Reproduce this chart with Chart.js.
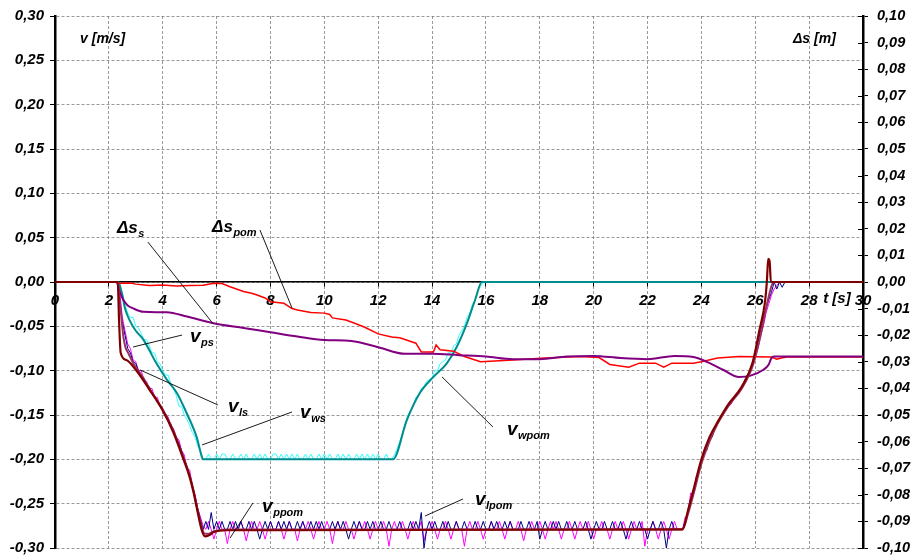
<!DOCTYPE html>
<html>
<head>
<meta charset="utf-8">
<script src="https://cdn.jsdelivr.net/npm/chart.js@4/dist/chart.umd.min.js"></script>
<style>
  html, body { margin: 0; padding: 0; background: #fff; }
  canvas { display: block; }
</style>
</head>
<body>
<canvas id="c" width="915" height="559"></canvas>
<script>
// ---- measured signals -------------------------------------------------
// Sample clock of the logged velocity signals (s)
const T_START = 2.3;
const T_STEP = 0.1;

// v_wpom [m/s], sampled from 2.3 s to 16.0 s
const vWpom = [
  0, -.005, -.012, -.025, -.035, -.04, -.04, -.05, -.052, -.058,
  -.065, -.065, -.072, -.08, -.08, -.09, -.092, -.1, -.105, -.105,
  -.115, -.12, -.128, -.14, -.14, -.15, -.155, -.162, -.17, -.175,
  -.185, -.19, -.2,
  -.2, -.194, -.2, -.2, -.194, -.2, -.194, -.194, -.2, -.2,
  -.194, -.2, -.2, -.194, -.2, -.194, -.2, -.2, -.194, -.2,
  -.194, -.2, -.194, -.2, -.2, -.194, -.194, -.2, -.194, -.2,
  -.194, -.2, -.194, -.2, -.194, -.2, -.2, -.194, -.2, -.194,
  -.2, -.2, -.194, -.2, -.194, -.2, -.194, -.2, -.2, -.194,
  -.2, -.194, -.2, -.194, -.2, -.2, -.194, -.2, -.194, -.2,
  -.194, -.2, -.194, -.2, -.194, -.2, -.2, -.194, -.2, -.2,
  -.195, -.188, -.18, -.17, -.16, -.15, -.145, -.14, -.13, -.128,
  -.12, -.118, -.112, -.11, -.108, -.1, -.1, -.092, -.09, -.088,
  -.08, -.08, -.072, -.07, -.06, -.055, -.05, -.04, -.035, -.025,
  -.02, -.01, -.005, 0, 0
];

// v_lpom [m/s], sampled from 2.3 s to 27.2 s
const vLpom = [
  0, -.02, -.045, -.06, -.075, -.08, -.09, -.092, -.1, -.105,
  -.108, -.115, -.118, -.125, -.128, -.135, -.138, -.145, -.148, -.155,
  -.16, -.168, -.175, -.182, -.19, -.2, -.208, -.218, -.23, -.242,
  -.256, -.268, -.279,
  -.27, -.279, -.26, -.279, -.27, -.279, -.27, -.279, -.279, -.27,
  -.279, -.27, -.279, -.27, -.279, -.279, -.27, -.279, -.27, -.279,
  -.29, -.279, -.27, -.279, -.27, -.279, -.279, -.27, -.279, -.27,
  -.279, -.27, -.279, -.279, -.27, -.279, -.27, -.279, -.279, -.27,
  -.279, -.27, -.279, -.27, -.279, -.279, -.279, -.27, -.279, -.27,
  -.279, -.27, -.279, -.29, -.279, -.27, -.279, -.27, -.279, -.279,
  -.27, -.279, -.27, -.279, -.279, -.27, -.279, -.279, -.27, -.279,
  -.279, -.279, -.27, -.279, -.279, -.279, -.27, -.279, -.27, -.279,
  -.26, -.30, -.279, -.27, -.279, -.27, -.279, -.279, -.27, -.279,
  -.27, -.279, -.279, -.27, -.279, -.279, -.27, -.279, -.279, -.279,
  -.27, -.279, -.279, -.27, -.279, -.279, -.27, -.279, -.27, -.279,
  -.279, -.27, -.279, -.27, -.279, -.279, -.279, -.27, -.279, -.279,
  -.27, -.279, -.279, -.27, -.29, -.279, -.27, -.279, -.279, -.27,
  -.279, -.27, -.279, -.279, -.27, -.279, -.279, -.27, -.279, -.279,
  -.279, -.27, -.279, -.29, -.279, -.27, -.279, -.279, -.27, -.279,
  -.279, -.27, -.279, -.279, -.27, -.279, -.29, -.279, -.27, -.279,
  -.279, -.27, -.279, -.279, -.29, -.279, -.27, -.279, -.279, -.27,
  -.279, -.30, -.279, -.27, -.279, -.279, -.279,
  -.279, -.27, -.258, -.245, -.235, -.225, -.21, -.205, -.19, -.19,
  -.178, -.175, -.165, -.16, -.152, -.15, -.145, -.14, -.135, -.13,
  -.128, -.122, -.12, -.112, -.105, -.1, -.09, -.08, -.068, -.055,
  -.04, -.03, -.02, -.012, 0, -.008, 0, -.006, 0, 0
];

// v_ppom [m/s], sampled from 2.3 s to 27.2 s
const vPpom = [
  0, -.01, -.04, -.055, -.07, -.075, -.088, -.09, -.1, -.1,
  -.11, -.112, -.12, -.12, -.13, -.13, -.14, -.142, -.15, -.152,
  -.162, -.165, -.175, -.178, -.19, -.195, -.21, -.212, -.23, -.24,
  -.255, -.265, -.275,
  -.279, -.27, -.279, -.29, -.279, -.27, -.279, -.279, -.295, -.279,
  -.27, -.279, -.279, -.27, -.279, -.292, -.279, -.27, -.279, -.279,
  -.27, -.279, -.29, -.279, -.27, -.279, -.279, -.27, -.279, -.29,
  -.279, -.27, -.279, -.279, -.292, -.279, -.27, -.279, -.27, -.279,
  -.29, -.279, -.27, -.279, -.279, -.27, -.279, -.295, -.279, -.27,
  -.279, -.279, -.27, -.279, -.279, -.29, -.279, -.27, -.279, -.27,
  -.279, -.29, -.279, -.27, -.279, -.279, -.27, -.279, -.298, -.279,
  -.27, -.279, -.279, -.27, -.279, -.29, -.279, -.27, -.279, -.279,
  -.27, -.292, -.279, -.279, -.27, -.279, -.29, -.279, -.279, -.27,
  -.279, -.29, -.279, -.27, -.279, -.279, -.298, -.279, -.27, -.279,
  -.279, -.27, -.279, -.29, -.279, -.279, -.27, -.279, -.279, -.27,
  -.279, -.29, -.279, -.27, -.279, -.279, -.27, -.279, -.292, -.279,
  -.279, -.27, -.279, -.279, -.27, -.279, -.29, -.279, -.27, -.279,
  -.27, -.279, -.29, -.279, -.279, -.27, -.279, -.29, -.279, -.27,
  -.279, -.279, -.27, -.279, -.29, -.279, -.279, -.27, -.279, -.279,
  -.29, -.279, -.27, -.279, -.279, -.27, -.279, -.29, -.279, -.27,
  -.279, -.279, -.27, -.298, -.279, -.279, -.27, -.279, -.29, -.279,
  -.27, -.279, -.29, -.279, -.27, -.279, -.279,
  -.279, -.265, -.262, -.238, -.24, -.22, -.215, -.2, -.195, -.185,
  -.18, -.17, -.165, -.158, -.155, -.148, -.145, -.14, -.138, -.132,
  -.128, -.125, -.12, -.115, -.11, -.1, -.095, -.085, -.075, -.06,
  -.05, -.035, -.025, -.015, -.008, -.004, 0, 0, 0, 0
];

// Filtered velocities [t (s), v (m/s)]
const vWs = [
  [0, 0], [2.35, 0], [2.5, -0.015], [2.6, -0.030], [2.8, -0.045], [3.0, -0.055],
  [3.28, -0.065], [3.77, -0.092], [4.15, -0.110], [4.52, -0.125], [4.89, -0.148],
  [5.26, -0.175], [5.45, -0.197], [5.5, -0.200], [12.55, -0.200], [13.06, -0.156],
  [13.55, -0.125], [14.05, -0.107], [14.54, -0.092], [14.92, -0.073], [15.29, -0.047],
  [15.6, -0.020], [15.85, 0], [30, 0]
];
const vPs = [
  [0, 0], [2.33, 0], [2.4, -0.020], [2.44, -0.032], [2.54, -0.062], [2.62, -0.074],
  [2.72, -0.080], [2.91, -0.092], [3.16, -0.103], [3.5, -0.120], [4.0, -0.144],
  [4.4, -0.168], [4.77, -0.198], [5.0, -0.218], [5.15, -0.236], [5.3, -0.258],
  [5.45, -0.277], [5.57, -0.284], [5.7, -0.284], [5.9, -0.281], [6.4, -0.279],
  [23.3, -0.279], [23.5, -0.262], [23.7, -0.240], [24.0, -0.205], [24.3, -0.180],
  [24.6, -0.160], [25.0, -0.140], [25.5, -0.120], [25.9, -0.095], [26.2, -0.060],
  [26.4, -0.030], [26.6, -0.005], [26.7, 0], [30, 0]
];
const vLs = [
  [0, 0], [2.33, 0], [2.38, -0.045], [2.44, -0.080], [2.65, -0.088], [3.0, -0.099],
  [3.5, -0.121], [4.0, -0.145], [4.4, -0.170], [4.77, -0.200], [5.0, -0.220],
  [5.15, -0.238], [5.3, -0.260], [5.45, -0.280], [5.57, -0.287], [5.7, -0.286],
  [5.9, -0.282], [6.4, -0.280], [23.3, -0.279], [23.5, -0.258], [23.7, -0.235],
  [24.0, -0.200], [24.3, -0.175], [24.6, -0.158], [25.0, -0.138], [25.5, -0.118],
  [25.9, -0.091], [26.15, -0.055], [26.35, -0.025], [26.43, 0], [26.48, 0.026],
  [26.53, 0.024], [26.58, 0], [30, 0]
];

// Displacement differences [t (s), Δs (m)]
const dsPom = [
  [0, 0], [2.3, 0], [2.4, -0.0005], [2.8, -0.0004], [3.0, -0.0008], [3.5, -0.0013],
  [4.0, -0.0011], [4.5, -0.0015], [5.0, -0.0013], [5.5, -0.0012], [5.9, -0.0005],
  [6.2, -0.0006], [6.5, -0.0018], [7.0, -0.0036], [7.3, -0.0042], [7.5, -0.0049],
  [7.8, -0.0060], [8.0, -0.0074], [8.5, -0.0080], [8.8, -0.0100], [9.0, -0.0105],
  [9.5, -0.0115], [10.0, -0.0117], [10.2, -0.0122], [10.3, -0.0135], [10.8, -0.0143],
  [11.2, -0.0158], [11.5, -0.0170], [12.0, -0.0195], [12.5, -0.0207], [12.8, -0.0210],
  [13.4, -0.0230], [13.6, -0.0263], [14.05, -0.0263], [14.15, -0.0237], [14.3, -0.0255],
  [14.8, -0.0260], [15.2, -0.0280], [15.8, -0.0300], [16.5, -0.0296], [17.0, -0.0293],
  [18.2, -0.0286], [19.5, -0.0280], [20.2, -0.0284], [20.6, -0.0310], [21.3, -0.0320],
  [21.7, -0.0305], [22.3, -0.0305], [22.6, -0.0320], [22.9, -0.0305], [23.7, -0.0305],
  [24.0, -0.0300], [24.6, -0.0286], [25.4, -0.0280], [26.6, -0.0282], [26.8, -0.0290],
  [27.0, -0.0285], [27.2, -0.0282], [30, -0.0282]
];
const dsS = [
  [0, 0], [2.3, 0], [2.4, -0.0035], [2.54, -0.0068], [2.7, -0.0088], [2.9, -0.0099],
  [3.28, -0.0112], [4.15, -0.0114], [4.9, -0.0130], [5.88, -0.0155], [7.0, -0.0173],
  [8.0, -0.0189], [9.0, -0.0205], [10.0, -0.0218], [11.0, -0.0222], [12.0, -0.0245],
  [13.0, -0.0270], [14.0, -0.0270], [15.0, -0.0275], [16.0, -0.0280], [17.0, -0.0290],
  [18.0, -0.0290], [19.0, -0.0280], [20.0, -0.0278], [21.0, -0.0286], [22.0, -0.0290],
  [23.0, -0.0278], [23.7, -0.0282], [24.2, -0.0300], [24.8, -0.0330], [25.4, -0.0357],
  [25.8, -0.0353], [26.3, -0.0330], [26.5, -0.0310], [26.6, -0.0286], [26.7, -0.0280],
  [30, -0.0280]
];

// ---- helpers ----------------------------------------------------------
const FONT = '"Liberation Sans", Arial, Helvetica, sans-serif';
const sampled = values => {
  const pts = [{x: 0, y: 0}];
  values.forEach((v, i) => pts.push({x: +(T_START + i * T_STEP).toFixed(2), y: v}));
  pts.push({x: 30, y: 0});
  return pts;
};
const pairs = arr => arr.map(([x, y]) => ({x, y}));
const comma = v => (Math.abs(v) < 1e-9 ? 0 : v).toFixed(2).replace('.', ',');

// Labels with leader lines, placed in (t, v) coordinates of the left axis
const notes = [
  {main: 'Δs', sub: 's',   size: 17, at: [2.30, 0.0553],  from: [3.45, 0.045],   to: [5.87, -0.047]},
  {main: 'Δs', sub: 'pom', size: 17, at: [5.83, 0.0564],  from: [7.61, 0.0586],  to: [8.80, -0.0293]},
  {main: 'v',  sub: 'ps',  size: 19, at: [5.01, -0.0677], from: [4.72, -0.0598], to: [2.90, -0.0733]},
  {main: 'v',  sub: 'ls',  size: 19, at: [6.42, -0.1466], from: [6.05, -0.1387], to: [3.16, -0.0992]},
  {main: 'v',  sub: 'ws',  size: 19, at: [9.10, -0.1534], from: [8.80, -0.1466], to: [5.46, -0.1838]},
  {main: 'v',  sub: 'wpom',size: 19, at: [16.78, -0.1726],from: [16.26, -0.1635],to: [14.37, -0.1071]},
  {main: 'v',  sub: 'ppom',size: 19, at: [7.69, -0.2594], from: [7.35, -0.2492], to: [6.50, -0.2887]},
  {main: 'v',  sub: 'lpom',size: 19, at: [15.59, -0.2515],from: [15.15, -0.2447],to: [13.74, -0.2639]}
];
const titles = [
  {text: 'v [m/s]', size: 14, at: [0.93, 0.2695]},
  {text: 'Δs [m]',  size: 14, at: [27.40, 0.2695]},
  {text: 't [s]',   size: 15, at: [28.52, -0.0237]}
];

const notesPlugin = {
  id: 'notes',
  beforeDatasetsDraw(chart) {
    // inner half of the right-axis tick marks
    const {ctx} = chart;
    const r = chart.scales.y2;
    ctx.save();
    ctx.strokeStyle = '#000';
    ctx.lineWidth = 1;
    r.ticks.forEach(tk => {
      const y = Math.round(r.getPixelForValue(tk.value)) + 0.5;
      ctx.beginPath();
      ctx.moveTo(r.left - 5, y);
      ctx.lineTo(r.left, y);
      ctx.stroke();
    });
    ctx.restore();
  },
  afterDatasetsDraw(chart) {
    const {ctx} = chart;
    const xs = chart.scales.x, ys = chart.scales.y;
    const P = ([t, v]) => [xs.getPixelForValue(t), ys.getPixelForValue(v)];
    ctx.save();
    ctx.fillStyle = '#000';
    ctx.strokeStyle = '#000';
    ctx.lineWidth = 0.9;
    ctx.textBaseline = 'alphabetic';
    ctx.textAlign = 'left';
    notes.forEach(n => {
      const [a, b] = P(n.from), [c, d] = P(n.to);
      ctx.beginPath();
      ctx.moveTo(a, b);
      ctx.lineTo(c, d);
      ctx.stroke();
      const [px, py] = P(n.at);
      ctx.font = `italic bold ${n.size}px ${FONT}`;
      ctx.fillText(n.main, px, py);
      const w = ctx.measureText(n.main).width;
      ctx.font = `italic bold 11px ${FONT}`;
      ctx.fillText(n.sub, px + w + 0.5, py + 4);
    });
    titles.forEach(t => {
      const [px, py] = P(t.at);
      ctx.font = `italic bold ${t.size}px ${FONT}`;
      ctx.fillText(t.text, px, py);
    });
    ctx.restore();
  }
};

// ---- chart ------------------------------------------------------------
Chart.defaults.font.family = FONT;
Chart.defaults.color = '#000';

const tickFont = {size: 15, weight: 'bold', style: 'italic'};
const gridGray = 'rgba(120,120,120,0.75)';

// fixed axis widths; vertical room for end labels comes from layout padding
const fitVertical = width => s => {
  s.width = width;
  s.paddingTop = 0;
  s.paddingBottom = 0;
};

const line = (data, color, width, axis, smooth) => ({
  data, borderColor: color, backgroundColor: color, borderWidth: width,
  yAxisID: axis, pointRadius: 0, fill: false,
  tension: 0, cubicInterpolationMode: smooth ? 'monotone' : 'default'
});

new Chart(document.getElementById('c'), {
  type: 'line',
  data: {
    datasets: [
      line(pairs(vLs), '#800000', 2.2, 'y', true),
      line(pairs(vPs), '#993366', 2, 'y', true),
      line(pairs(dsS), '#800080', 2, 'y2', true),
      line(pairs(dsPom), '#FF0000', 1.5, 'y2', false),
      line(pairs(vWs), '#008C8C', 2, 'y', true),
      line(sampled(vWpom), '#33FFFF', 1, 'y', false),
      line(sampled(vLpom), '#000080', 1, 'y', false),
      line(sampled(vPpom), '#FF00FF', 1, 'y', false)
    ]
  },
  options: {
    responsive: false,
    animation: false,
    devicePixelRatio: 1,
    layout: {padding: {top: 16, bottom: 11, left: 0, right: 0}},
    plugins: {legend: {display: false}, tooltip: {enabled: false}},
    scales: {
      x: {
        type: 'linear', min: 0, max: 30,
        position: {y: 0},
        afterFit: s => { s.paddingTop = 0; s.paddingBottom = 0; },
        ticks: {stepSize: 2, font: tickFont, color: '#000', padding: 6, maxRotation: 0,
                callback: v => String(v)},
        grid: {color: gridGray, lineWidth: 1, tickLength: 4, tickColor: '#000', drawTicks: true},
        border: {display: true, color: '#000', width: 1.5, dash: [3, 2]}
      },
      y: {
        type: 'linear', position: 'left', min: -0.3, max: 0.3,
        afterFit: fitVertical(55),
        ticks: {stepSize: 0.05, font: tickFont, color: '#000', padding: 6, callback: comma},
        grid: {color: gridGray, lineWidth: 1, tickLength: 5, tickColor: '#000'},
        border: {display: true, color: '#000', width: 2.5, dash: [3, 2]}
      },
      y2: {
        type: 'linear', position: 'right', min: -0.1, max: 0.1,
        afterFit: fitVertical(52),
        ticks: {stepSize: 0.01, font: {size: 14.5, weight: 'bold', style: 'italic'},
                color: '#000', padding: 9, callback: comma},
        grid: {drawOnChartArea: false, tickLength: 5, tickColor: '#000', lineWidth: 1},
        border: {display: true, color: '#000', width: 2.5}
      }
    }
  },
  plugins: [notesPlugin]
});
</script>
</body>
</html>
